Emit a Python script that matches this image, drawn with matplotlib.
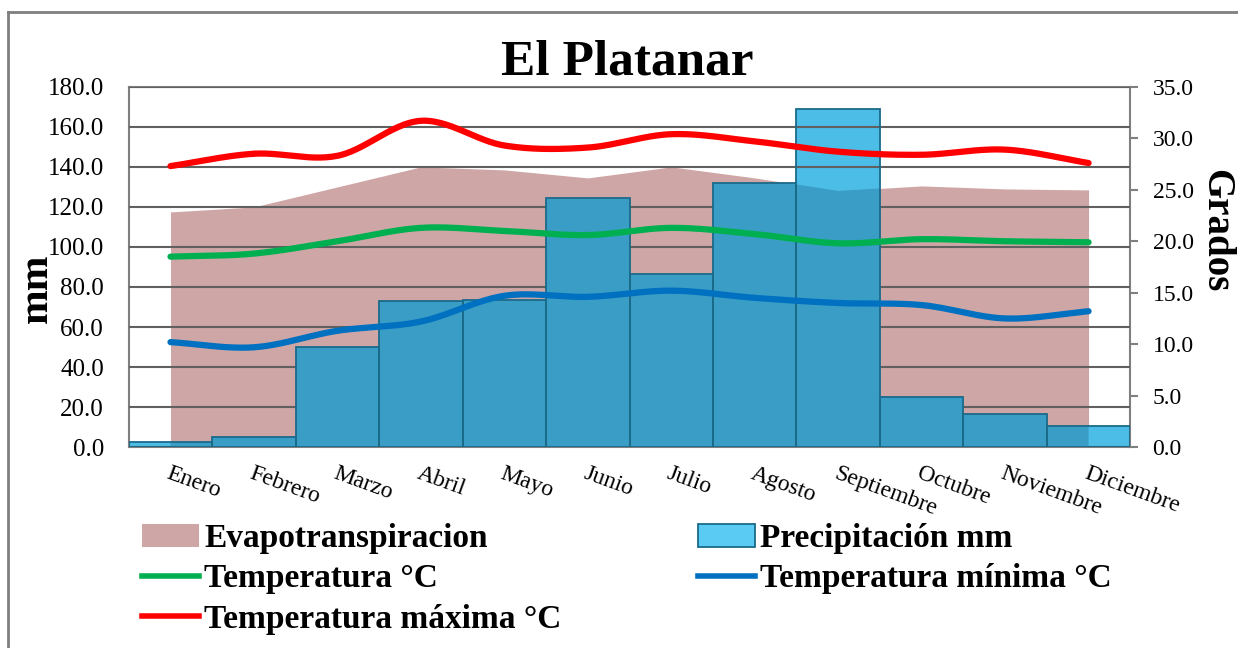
import numpy as np
import matplotlib.pyplot as plt
from matplotlib.lines import Line2D
from matplotlib.patches import Patch

# datos
meses = ['Enero', 'Febrero', 'Marzo', 'Abril', 'Mayo', 'Junio', 'Julio',
         'Agosto', 'Septiembre', 'Octubre', 'Noviembre', 'Diciembre']
precipitacion = [2.5, 5.0, 50.0, 73.0, 73.5, 124.5, 86.5, 132.0, 169.0, 25.0, 16.5, 10.5]
evapotranspiracion = [117.5, 120.0, 130.0, 140.0, 138.5, 134.5, 140.0, 134.5, 128.0, 130.5, 129.0, 128.5]
temp_media = [18.5, 18.8, 20.0, 21.3, 21.0, 20.6, 21.3, 20.7, 19.8, 20.2, 20.0, 19.9]
temp_min = [10.2, 9.7, 11.3, 12.2, 14.7, 14.6, 15.2, 14.5, 14.0, 13.8, 12.5, 13.2]
temp_max = [27.3, 28.5, 28.3, 31.7, 29.3, 29.1, 30.4, 29.7, 28.7, 28.4, 28.9, 27.6]

FUENTE = ['Liberation Serif', 'DejaVu Serif']
plt.rcParams['font.family'] = FUENTE


def suavizar(x, y, n=30):
    # curva suave tipo Excel (Catmull-Rom) entre los puntos
    x = np.asarray(x, float)
    y = np.asarray(y, float)
    px = np.concatenate([[2 * x[0] - x[1]], x, [2 * x[-1] - x[-2]]])
    py = np.concatenate([[2 * y[0] - y[1]], y, [2 * y[-1] - y[-2]]])
    xs, ys = [], []
    t = np.linspace(0, 1, n)
    for i in range(1, len(px) - 2):
        for p, out in ((px, xs), (py, ys)):
            p0, p1, p2, p3 = p[i - 1], p[i], p[i + 1], p[i + 2]
            out.extend(0.5 * ((2 * p1) + (-p0 + p2) * t
                              + (2 * p0 - 5 * p1 + 4 * p2 - p3) * t ** 2
                              + (-p0 + 3 * p1 - 3 * p2 + p3) * t ** 3))
    return np.array(xs), np.array(ys)


fig = plt.figure(figsize=(12.38, 6.48), dpi=100)
ax = fig.add_axes([0.104, 0.310, 0.809, 0.556])
x = np.arange(len(meses))

# area de evapotranspiracion
area = ax.fill_between(x, 0, evapotranspiracion, color='#CFA6A6', lw=0, zorder=1)

# barras de precipitacion
ax.bar(x, precipitacion, width=1.0, color='#4CBDE7', edgecolor='none', zorder=2)
oscuras = ax.bar(x, precipitacion, width=1.0, color='#3A9DC6', edgecolor='none', zorder=3)
ruta = area.get_paths()[0]
for b in oscuras:
    b.set_clip_path(ruta, ax.transData)
ax.bar(x, precipitacion, width=1.0, color='none', edgecolor='#1A6A8A', lw=1.3, zorder=4)

ax.set_xlim(-0.5, 11.5)
ax.set_ylim(0, 180)
ax.set_yticks(np.arange(0, 181, 20))
ax.set_yticklabels([f'{v:.1f}' for v in np.arange(0, 181, 20)], fontsize=18)
ax.yaxis.grid(True, color='#606060', lw=1.5)
ax.set_axisbelow(False)
for gl in ax.get_ygridlines():
    gl.set_zorder(1.5)
ax.tick_params(axis='y', length=0, pad=18)
ax.tick_params(axis='x', length=0)
ax.set_xticks(x)
ax.set_xticklabels(meses, rotation=-20, ha='left', rotation_mode='anchor', fontsize=17)
for lab in ax.get_xticklabels():
    lab.set_y(-0.03)
for s in ax.spines.values():
    s.set_color('#7F7F7F')
    s.set_linewidth(1.5)
ax.set_ylabel('mm', fontsize=30, fontweight='bold')
ax.yaxis.set_label_coords(-0.073, 0.44)

# eje de temperatura
ax2 = ax.twinx()
ax2.set_ylim(0, 35)
ax2.set_yticks(np.arange(0, 36, 5))
ax2.set_yticklabels([f'{v:.1f}' for v in np.arange(0, 36, 5)], fontsize=17)
ax2.tick_params(axis='y', length=6, width=1.5, color='#7F7F7F', pad=10)
for s in ax2.spines.values():
    s.set_visible(False)
ax2.set_ylabel('Grados', fontsize=28, fontweight='bold', rotation=-90)
ax2.yaxis.set_label_coords(1.104, 0.60)

for serie, color in ((temp_max, '#FF0000'), (temp_media, '#00B050'), (temp_min, '#0070C0')):
    xs, ys = suavizar(x, serie)
    ax2.plot(xs, ys, color=color, lw=4.5, solid_capstyle='round', zorder=5)

fig.text(0.507, 0.904, 'El Platanar', ha='center', va='center', fontsize=37, fontweight='bold')

manejadores = [
    Patch(facecolor='#CFA6A6', edgecolor='none'),
    Line2D([], [], color='#00B050', lw=4),
    Line2D([], [], color='#FF0000', lw=4),
    Patch(facecolor='#5ACBF2', edgecolor='#1A6A8A', lw=1.3),
    Line2D([], [], color='#0070C0', lw=4),
]
etiquetas = ['Evapotranspiracion', 'Temperatura °C', 'Temperatura máxima °C',
             'Precipitación mm', 'Temperatura mínima °C']
fig.legend(manejadores, etiquetas, ncol=2, loc='upper left', bbox_to_anchor=(0.115, 0.193),
           frameon=False, prop={'family': FUENTE, 'weight': 'bold', 'size': 24},
           handlelength=1.7, handletextpad=0.15, labelspacing=0.28, columnspacing=4.1,
           borderaxespad=0, borderpad=0)

# marco exterior
fig.add_artist(Line2D([0.0065, 1.0], [0.982, 0.982], color='#7F7F7F', lw=2, transform=fig.transFigure))
fig.add_artist(Line2D([0.0065, 0.0065], [0.0, 0.982], color='#7F7F7F', lw=2, transform=fig.transFigure))

fig.savefig('out.png', dpi=100)
